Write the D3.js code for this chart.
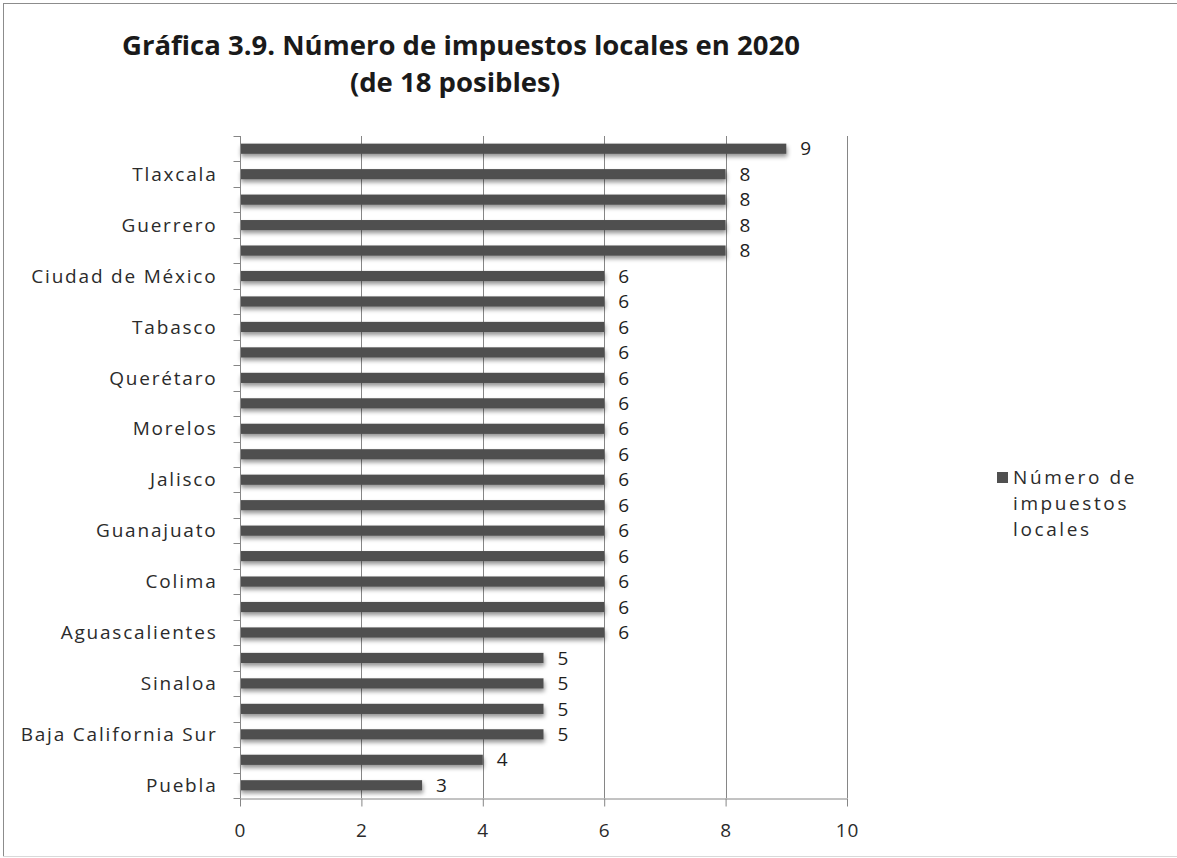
<!DOCTYPE html>
<html>
<head>
<meta charset="utf-8">
<script src="https://cdn.jsdelivr.net/npm/d3@7/dist/d3.min.js"></script>
<style>
  html, body { margin: 0; padding: 0; background: #fff; }
  svg { display: block; }
  text { font-family: "Open Sans", "DejaVu Sans", sans-serif; }
</style>
</head>
<body>
<svg id="chart" width="1177" height="858"></svg>
<script>
// Categories listed top to bottom; only every other one carries a visible label
const categories = ["", "Tlaxcala", "", "Guerrero", "", "Ciudad de México", "", "Tabasco", "",
  "Querétaro", "", "Morelos", "", "Jalisco", "", "Guanajuato", "", "Colima", "",
  "Aguascalientes", "", "Sinaloa", "", "Baja California Sur", "", "Puebla"];
const values = [9, 8, 8, 8, 8, 6, 6, 6, 6, 6, 6, 6, 6, 6, 6, 6, 6, 6, 6, 6, 5, 5, 5, 5, 4, 3];
const xTicks = [0, 2, 4, 6, 8, 10];
const titleLines = ["Gráfica 3.9. Número de impuestos locales en 2020", "(de 18 posibles)"];
const legendLines = ["Número de", "impuestos", "locales"];

const svg = d3.select("#chart");
const W = 1177, H = 858;
const plot = { left: 240, right: 847, top: 136, bottom: 798 };
const axisColor = "#868686";
const barColor = "#505050";
const textColor = "#2b2b2b";

// Outer frame
svg.append("rect").attr("x", 3.5).attr("y", 3.5).attr("width", W + 10).attr("height", H - 5)
  .attr("fill", "#fff").attr("stroke", "#8c8c8c").attr("stroke-width", 1);
svg.append("line").attr("x1", 3).attr("x2", W).attr("y1", 856.5).attr("y2", 856.5)
  .attr("stroke", "#d9d9d9");

// Soft shadow under the bars
const defs = svg.append("defs");
const f = defs.append("filter").attr("id", "barShadow")
  .attr("x", "-5%").attr("y", "-60%").attr("width", "110%").attr("height", "260%");
f.append("feDropShadow").attr("dx", 1).attr("dy", 3).attr("stdDeviation", 2)
  .attr("flood-color", "#000").attr("flood-opacity", 0.42);

// Title
svg.append("g").selectAll("text").data(titleLines).join("text")
  .attr("x", (d, i) => i === 0 ? 461 : 455)
  .attr("y", (d, i) => 55 + i * 37)
  .attr("text-anchor", "middle")
  .attr("font-size", 27.5).attr("font-weight", "bold").attr("fill", "#1a1a1a")
  .text(d => d);

const x = d3.scaleLinear().domain([0, 10]).range([plot.left, plot.right]);
const y = d3.scaleBand().domain(d3.range(categories.length))
  .range([plot.top, plot.bottom]).paddingInner(0).paddingOuter(0);

// Vertical gridlines
svg.append("g").selectAll("line").data(xTicks.filter(t => t > 0)).join("line")
  .attr("x1", d => Math.round(x(d)) + 0.5).attr("x2", d => Math.round(x(d)) + 0.5)
  .attr("y1", plot.top).attr("y2", plot.bottom)
  .attr("stroke", axisColor).attr("stroke-width", 1);

// Bars
const barH = y.bandwidth() * 0.4;
svg.append("g").attr("filter", "url(#barShadow)").selectAll("rect").data(values).join("rect")
  .attr("x", x(0))
  .attr("y", (d, i) => y(i) + (y.bandwidth() - barH) / 2)
  .attr("width", d => x(d) - x(0))
  .attr("height", barH)
  .attr("fill", barColor);

// X axis
const xAxis = svg.append("g")
  .attr("transform", `translate(0,${plot.bottom + 0.5})`)
  .call(d3.axisBottom(x).tickValues(xTicks).tickSize(8).tickPadding(17).tickSizeOuter(0));
xAxis.select(".domain").attr("stroke", axisColor);
xAxis.selectAll(".tick line").attr("stroke", axisColor);
xAxis.selectAll(".tick text").attr("font-size", 19).attr("fill", textColor)
  .attr("font-family", "\"Open Sans\", sans-serif").attr("letter-spacing", 1);

// Y axis: ticks on category boundaries, labels on alternate categories
const yAxis = svg.append("g").attr("transform", `translate(${plot.left + 0.5},0)`);
yAxis.append("line").attr("y1", plot.top).attr("y2", plot.bottom)
  .attr("stroke", axisColor);
const bounds = d3.range(categories.length + 1).map(i => plot.top + i * y.step());
yAxis.selectAll(".b").data(bounds).join("line").attr("class", "b")
  .attr("x1", -7).attr("x2", 0)
  .attr("y1", d => Math.round(d) + 0.5).attr("y2", d => Math.round(d) + 0.5)
  .attr("stroke", axisColor);
yAxis.selectAll(".lbl").data(categories.map((c, i) => ({ c, i })).filter(d => d.c))
  .join("text").attr("class", "lbl")
  .attr("x", -23)
  .attr("y", d => y(d.i) + y.bandwidth() / 2)
  .attr("dy", "0.35em")
  .attr("text-anchor", "end")
  .attr("font-size", 19).attr("letter-spacing", 1.8).attr("fill", textColor)
  .text(d => d.c);

// Value labels
svg.append("g").selectAll("text").data(values).join("text")
  .attr("x", d => x(d) + 14)
  .attr("y", (d, i) => y(i) + y.bandwidth() / 2)
  .attr("dy", "0.35em")
  .attr("font-size", 19).attr("fill", "#1e1e1e")
  .text(d => d);

// Legend
const lg = svg.append("g").attr("transform", "translate(997,472)");
lg.append("rect").attr("width", 11).attr("height", 11).attr("fill", barColor);
lg.selectAll("text").data(legendLines).join("text")
  .attr("x", 16).attr("y", (d, i) => 12 + i * 26)
  .attr("font-size", 19).attr("letter-spacing", 2.6).attr("fill", textColor)
  .text(d => d);
</script>
</body>
</html>
